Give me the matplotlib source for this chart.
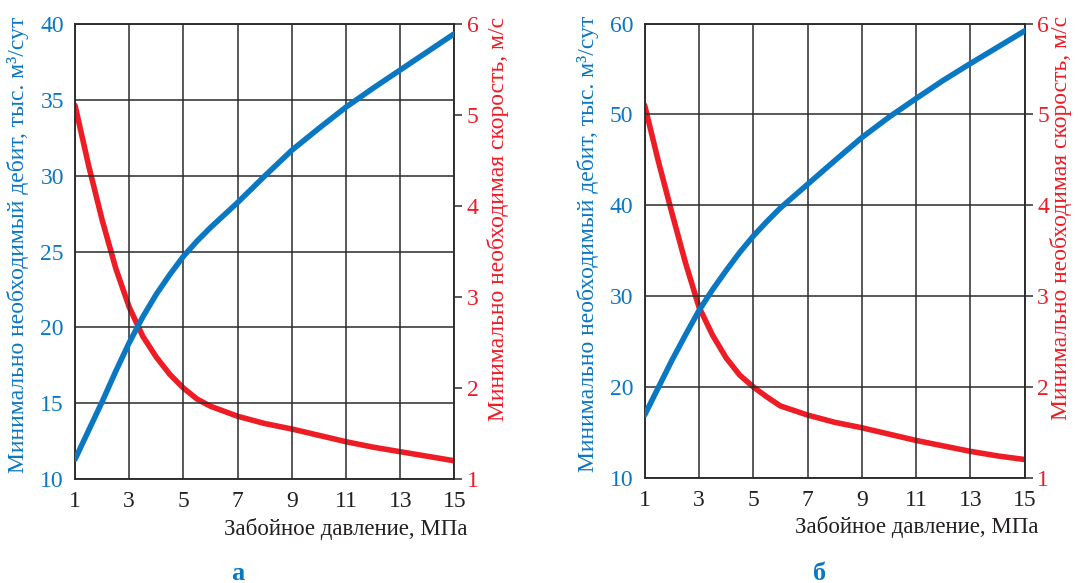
import matplotlib
matplotlib.use("Agg")
import matplotlib.pyplot as plt

plt.rcParams['font.family'] = ['Liberation Serif', 'DejaVu Serif']

BLUE = '#0a77c2'
RED = '#ee1c25'
INK = '#231f20'

# pressure, MPa
p = [1, 1.5, 2, 2.5, 3, 3.5, 4, 4.5, 5, 5.5, 6, 7, 8, 9, 10, 11, 12, 13, 14, 15]

# panel a
rate_a = [11.3, 13.2, 15.1, 17.1, 19.0, 20.7, 22.2, 23.5, 24.7, 25.7, 26.6, 28.25,
          30.0, 31.7, 33.15, 34.55, 35.8, 37.0, 38.2, 39.4]
vel_a = [5.11, 4.45, 3.85, 3.32, 2.89, 2.57, 2.34, 2.15, 2.00, 1.88, 1.80, 1.69,
         1.61, 1.55, 1.48, 1.41, 1.35, 1.30, 1.25, 1.20]

# panel b
rate_b = [16.9, 19.9, 22.9, 25.7, 28.4, 30.7, 32.8, 34.8, 36.6, 38.2, 39.7, 42.3,
          44.9, 47.45, 49.7, 51.75, 53.75, 55.6, 57.4, 59.2]
vel_b = [5.10, 4.49, 3.92, 3.37, 2.88, 2.57, 2.32, 2.13, 2.00, 1.89, 1.79, 1.69,
         1.61, 1.55, 1.48, 1.41, 1.35, 1.29, 1.24, 1.20]

x_ticks = [1, 3, 5, 7, 9, 11, 13, 15]
vel_ticks = [1, 2, 3, 4, 5, 6]

xlabel = 'Забойное давление, МПа'
ylabel_rate = 'Минимально необходимый дебит, тыс. м³/сут'
ylabel_vel = 'Минимально необходимая скорость, м/с'

fig = plt.figure(figsize=(10.78, 5.83), dpi=100)


def panel(rect, rate, vel, rate_ticks, letter, letter_x, right_label_x):
    ax = fig.add_axes(rect)
    ax2 = ax.twinx()

    ax.plot(p, rate, color=BLUE, lw=4.0, solid_capstyle='round',
            solid_joinstyle='round', zorder=3)
    ax2.plot(p, vel, color=RED, lw=4.0, solid_capstyle='round',
             solid_joinstyle='round', zorder=3)

    ax.set_xlim(1, 15)
    ax.set_ylim(rate_ticks[0], rate_ticks[-1])
    ax2.set_ylim(vel_ticks[0], vel_ticks[-1])
    ax.set_xticks(x_ticks)
    ax.set_yticks(rate_ticks)
    ax2.set_yticks(vel_ticks)

    ax.grid(True, color='#2b2b2b', lw=1.1)
    ax.set_axisbelow(True)

    for a in (ax, ax2):
        for s in a.spines.values():
            s.set_color('#2b2b2b')
            s.set_linewidth(1.1)

    ax.tick_params(axis='x', length=0, pad=9, labelsize=17, labelcolor=INK)
    ax.tick_params(axis='y', length=0, pad=8, labelsize=17, labelcolor=BLUE)
    ax2.tick_params(axis='y', length=5.5, width=1.1, color='#2b2b2b', pad=3.5,
                    labelsize=17, labelcolor=RED)

    ax.set_xlabel(xlabel, fontsize=16.5, color=INK, ha='right')
    ax.xaxis.set_label_coords(1.035, -0.085)
    ax.set_ylabel(ylabel_rate, fontsize=17, color=BLUE)
    ax.yaxis.set_label_coords(-0.12, 0.515)
    ax2.set_ylabel(ylabel_vel, fontsize=17, color=RED)
    ax2.yaxis.set_label_coords(right_label_x, 0.572)

    fig.text(letter_x, 0.006, letter, fontsize=19, fontweight='bold',
             color=BLUE, ha='center', va='baseline')
    # blue curve drawn above the red twin axis
    ax.set_zorder(ax2.get_zorder() + 1)
    ax.patch.set_visible(False)
    return ax, ax2


panel([0.0696, 0.1784, 0.352, 0.7796], rate_a, vel_a,
      [10, 15, 20, 25, 30, 35, 40], 'а', 238 / 1078, 1.085)
panel([0.598, 0.1806, 0.3526, 0.779], rate_b, vel_b,
      [10, 20, 30, 40, 50, 60], 'б', 820 / 1078, 1.066)

fig.savefig('out.png', dpi=100)
